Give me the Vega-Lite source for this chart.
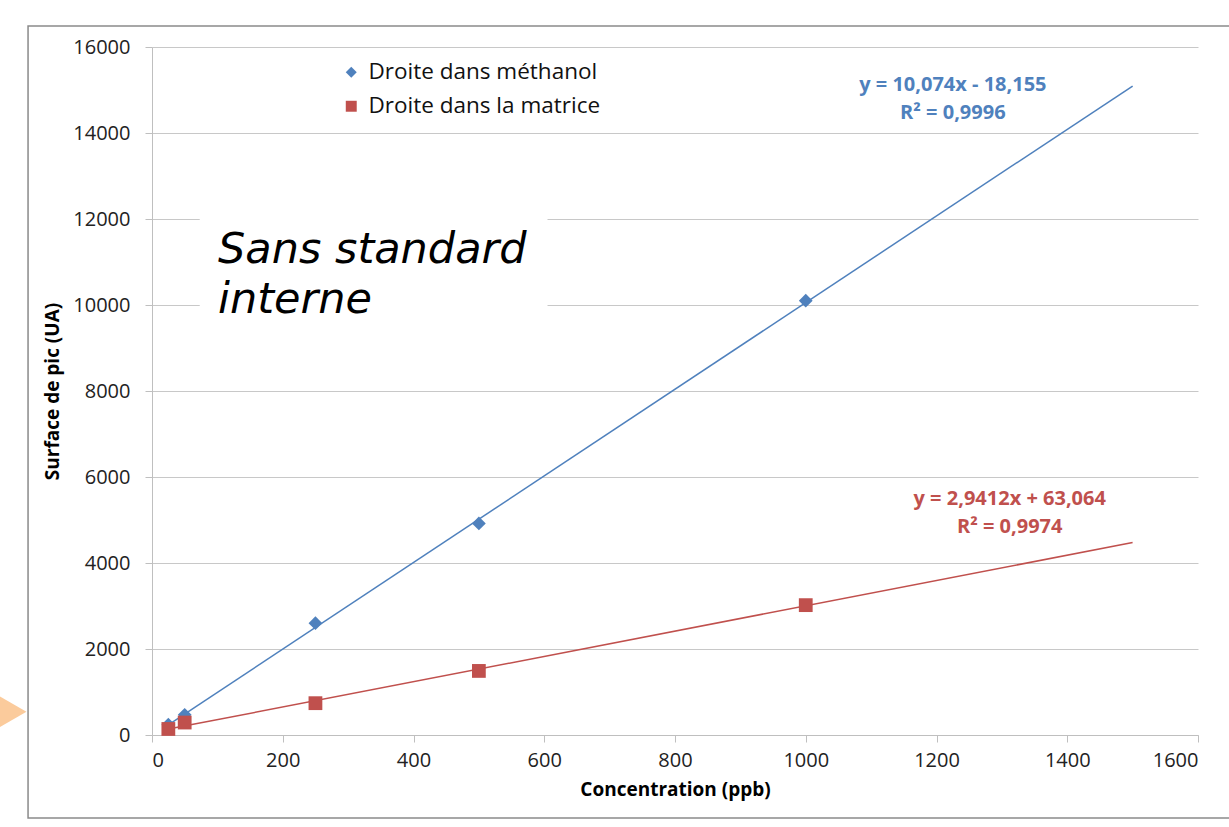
{
  "$schema": "https://vega.github.io/schema/vega-lite/v6.json",
  "width": 1046,
  "height": 688,
  "autosize": {"type": "none"},
  "padding": {"left": 152, "top": 47, "right": 31, "bottom": 92},
  "background": "white",
  "config": {
    "view": {"stroke": null},
    "font": "Open Sans",
    "axis": {
      "domainColor": "#bfbfbf",
      "tickColor": "#bfbfbf",
      "gridColor": "#c8c8c8",
      "labelColor": "#222222",
      "labelFont": "Open Sans",
      "labelFontSize": 20,
      "titleFont": "Open Sans",
      "titleFontSize": 19,
      "titleFontWeight": "bold",
      "titleColor": "#000000",
      "tickSize": 7
    }
  },
  "datasets": {
    "points": [
      {"serie": "Droite dans méthanol", "conc": 25, "surface": 240},
      {"serie": "Droite dans méthanol", "conc": 50, "surface": 470},
      {"serie": "Droite dans méthanol", "conc": 250, "surface": 2600},
      {"serie": "Droite dans méthanol", "conc": 500, "surface": 4920},
      {"serie": "Droite dans méthanol", "conc": 1000, "surface": 10100},
      {"serie": "Droite dans la matrice", "conc": 25, "surface": 140},
      {"serie": "Droite dans la matrice", "conc": 50, "surface": 290},
      {"serie": "Droite dans la matrice", "conc": 250, "surface": 740},
      {"serie": "Droite dans la matrice", "conc": 500, "surface": 1490},
      {"serie": "Droite dans la matrice", "conc": 1000, "surface": 3020}
    ],
    "trend": [
      {"serie": "Droite dans méthanol", "conc": 25, "surface": 234},
      {"serie": "Droite dans méthanol", "conc": 1500, "surface": 15093},
      {"serie": "Droite dans la matrice", "conc": 25, "surface": 137},
      {"serie": "Droite dans la matrice", "conc": 1500, "surface": 4475}
    ],
    "equations": [
      {"serie": "Droite dans méthanol", "conc": 1225, "surface": 15116, "label": "y = 10,074x - 18,155"},
      {"serie": "Droite dans méthanol", "conc": 1225, "surface": 14465, "label": "R² = 0,9996"},
      {"serie": "Droite dans la matrice", "conc": 1312, "surface": 5488, "label": "y = 2,9412x + 63,064"},
      {"serie": "Droite dans la matrice", "conc": 1312, "surface": 4837, "label": "R² = 0,9974"}
    ]
  },
  "layer": [
    {
      "data": {"values": [{"x1": -189.6, "x2": 1664, "y1": 16488, "y2": -1930}]},
      "mark": {"type": "rect", "fill": null, "stroke": "#8a8a8a", "strokeWidth": 1.5, "clip": false},
      "encoding": {
        "x": {"field": "x1", "type": "quantitative", "scale": {"domain": [0, 1600]}},
        "x2": {"field": "x2"},
        "y": {"field": "y1", "type": "quantitative", "scale": {"domain": [0, 16000]}},
        "y2": {"field": "y2"}
      }
    },
    {
      "data": {"values": [{"x1": -214, "y1": 540}]},
      "mark": {"type": "point", "shape": "triangle-right", "filled": true, "color": "#fbcb9c", "size": 1100, "opacity": 1, "clip": false},
      "encoding": {
        "x": {"field": "x1", "type": "quantitative"},
        "y": {"field": "y1", "type": "quantitative"}
      }
    },
    {
      "data": {"values": [{"x1": 73, "x2": 605, "y1": 12400, "y2": 9400}]},
      "mark": {"type": "rect", "fill": "white", "stroke": null},
      "encoding": {
        "x": {"field": "x1", "type": "quantitative"},
        "x2": {"field": "x2"},
        "y": {"field": "y1", "type": "quantitative"},
        "y2": {"field": "y2"}
      }
    },
    {
      "data": {"name": "trend"},
      "mark": {"type": "line", "strokeWidth": 1.5},
      "encoding": {
        "x": {"field": "conc", "type": "quantitative"},
        "y": {"field": "surface", "type": "quantitative"},
        "color": {"field": "serie", "type": "nominal"},
        "detail": {"field": "serie"}
      }
    },
    {
      "data": {"name": "points"},
      "mark": {"type": "point", "filled": true, "opacity": 1, "size": 190},
      "encoding": {
        "x": {
          "field": "conc", "type": "quantitative",
          "scale": {"domain": [0, 1600], "nice": false},
          "axis": {"values": [0, 200, 400, 600, 800, 1000, 1200, 1400, 1600], "grid": false, "title": "Concentration (ppb)", "labelPadding": 8, "titlePadding": 10, "format": "d"}
        },
        "y": {
          "field": "surface", "type": "quantitative",
          "scale": {"domain": [0, 16000], "nice": false},
          "axis": {"values": [0, 2000, 4000, 6000, 8000, 10000, 12000, 14000, 16000], "grid": true, "title": "Surface de pic (UA)", "labelPadding": 15, "titlePadding": 10, "format": "d"}
        },
        "color": {
          "field": "serie", "type": "nominal",
          "scale": {"domain": ["Droite dans méthanol", "Droite dans la matrice"], "range": ["#4f81bd", "#c0504d"]},
          "legend": {
            "title": null, "orient": "none", "legendX": 188, "legendY": 14,
            "labelFontSize": 22.5, "labelFont": "Open Sans", "labelColor": "#111111", "labelLimit": 400,
            "symbolSize": 120, "rowPadding": 11, "padding": 0, "labelOffset": 6,
            "symbolStrokeWidth": 0
          }
        },
        "shape": {
          "field": "serie", "type": "nominal",
          "scale": {"domain": ["Droite dans méthanol", "Droite dans la matrice"], "range": ["diamond", "square"]}
        }
      }
    },
    {
      "data": {"values": [{"x1": 101, "y1": 10977, "label": ["Sans standard", "interne"]}]},
      "mark": {"type": "text", "font": "DejaVu Sans", "fontStyle": "italic", "fontSize": 43, "align": "left", "baseline": "alphabetic", "lineHeight": 50, "color": "#000000"},
      "encoding": {
        "x": {"field": "x1", "type": "quantitative"},
        "y": {"field": "y1", "type": "quantitative"},
        "text": {"field": "label"}
      }
    },
    {
      "data": {"name": "equations"},
      "mark": {"type": "text", "font": "Open Sans", "fontWeight": "bold", "fontSize": 20, "align": "center", "baseline": "middle"},
      "encoding": {
        "x": {"field": "conc", "type": "quantitative"},
        "y": {"field": "surface", "type": "quantitative"},
        "text": {"field": "label"},
        "color": {"field": "serie", "type": "nominal"}
      }
    }
  ]
}
